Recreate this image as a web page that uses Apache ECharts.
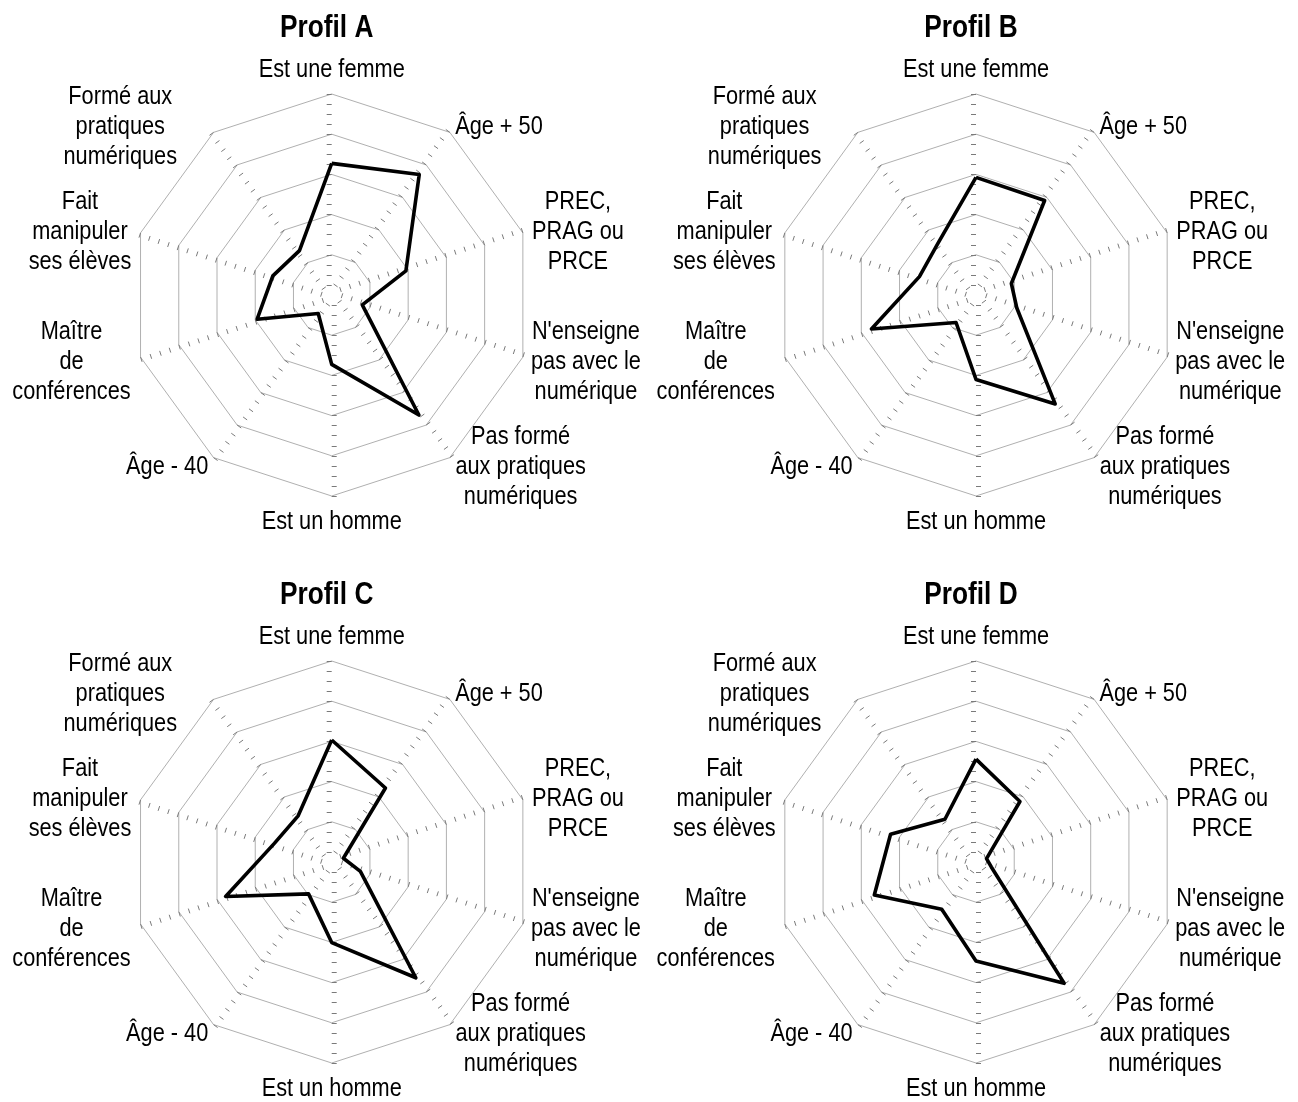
<!DOCTYPE html>
<html><head><meta charset="utf-8">
<script src="https://cdn.jsdelivr.net/npm/echarts@6/dist/echarts.min.js"></script>
<style>html,body{margin:0;padding:0;background:#fff}#c{width:1298px;height:1102px}</style>
</head><body><div id="c"></div>
<script>
// Axis labels, clockwise from the top
const axisLabels = [
  'Est une femme',
  'Âge + 50',
  'PREC,\nPRAG ou\nPRCE',
  "N'enseigne\npas avec le\nnumérique",
  'Pas formé\naux pratiques\nnumériques',
  'Est un homme',
  'Âge - 40',
  'Maître\nde\nconférences',
  'Fait\nmanipuler\nses élèves',
  'Formé aux\npratiques\nnumériques'
];
const profileTitles = ['Profil A', 'Profil B', 'Profil C', 'Profil D'];
// Values (clockwise, same order as axisLabels), scale 0..100
const profilA = [65.5, 74.1, 38.8, 16.0, 73.8, 34.5, 11.4, 39.0, 30.8, 27.3];
const profilB = [58.5, 58.1, 18.5, 21.4, 67.0, 42.0, 16.9, 54.7, 29.6, 32.0];
const profilC = [60.7, 45.5, 6.1, 15.0, 71.2, 40.1, 19.6, 55.5, 30.0, 28.4];
const profilD = [51.2, 37.2, 5.5, 8.0, 74.6, 49.3, 29.0, 53.2, 44.7, 26.3];
const profiles = [profilA, profilB, profilC, profilD];
const axisMax = 100;
const ringCount = 5;
const tickStep = 5;

const FONT = "'Liberation Sans', Arial, sans-serif";
const NARROW = 0.82;               // Arial Narrow look
const centers = [[331.7, 295], [976, 295], [331.7, 862], [976, 862]];
const R = 201;
// distance of each label anchor from the centre beyond the outer ring
const labelGap = [26, 9, 9, 9, 9, 24, 9, 9, 9, 9];
const labelDy = 2;
// width of the centred-line block (final px), 0 = natural
const labelWidths = [0, 0, 93, 109, 131, 0, 0, 121, 104, 176];
// ECharts lays indicators out counter-clockwise from the top
const ecOrder = [0, 9, 8, 7, 6, 5, 4, 3, 2, 1];

const indicator = ecOrder.map(i => ({ name: axisLabels[i], min: 0, max: axisMax }));
const tickIndicator = ecOrder.map(i => ({ name: axisLabels[i], min: tickStep, max: axisMax }));

const radar = [];
const series = [];
const graphic = [];
centers.forEach((c, p) => {
  radar.push({
    center: c, radius: [R * tickStep / axisMax, R], shape: 'polygon', startAngle: 90,
    splitNumber: (axisMax - tickStep) / tickStep, indicator: tickIndicator,
    axisName: { show: false },
    axisLine: { show: false },
    splitLine: { show: false },
    splitArea: { show: false },
    axisTick: { show: true, length: 5, lineStyle: { color: '#7a7a7a', width: 1 } }
  });
  radar.push({
    center: c, radius: R, shape: 'polygon', startAngle: 90,
    splitNumber: ringCount, indicator: indicator,
    axisName: { show: false },
    axisLine: { show: false },
    splitLine: { show: true, lineStyle: { color: '#b0b0b0', width: 1 } },
    splitArea: { show: false },
    axisTick: { show: false }
  });
  series.push({
    type: 'radar', radarIndex: 2 * p + 1, symbol: 'none', silent: true,
    lineStyle: { color: '#000', width: 3.6 },
    data: [{ value: ecOrder.map(i => profiles[p][i]), name: profileTitles[p] }]
  });
  // title
  graphic.push({
    type: 'text', x: c[0] - 5, y: c[1] - 267, scaleX: NARROW, silent: true,
    style: { text: profileTitles[p], fill: '#000', font: 'bold 32px ' + FONT,
             align: 'center', verticalAlign: 'middle' }
  });
  // axis names
  axisLabels.forEach((t, i) => {
    const th = i * Math.PI * 2 / axisLabels.length;
    const s = Math.sin(th), co = Math.cos(th);
    const d = R + labelGap[i];
    const align = Math.abs(s) < 1e-6 ? 'center' : (s > 0 ? 'left' : 'right');
    const tok = { fontFamily: FONT, fontSize: 26.5, lineHeight: 30, fill: '#000', align: 'center' };
    if (labelWidths[i]) tok.width = labelWidths[i] / NARROW;
    graphic.push({
      type: 'text', x: c[0] + d * s, y: c[1] - d * co + labelDy, scaleX: NARROW, silent: true,
      style: { text: '{t|' + t + '}', rich: { t: tok }, align: align, verticalAlign: 'middle',
               fontFamily: FONT, fontSize: 26.5, lineHeight: 30, fill: '#000' }
    });
  });
});

const chart = echarts.init(document.getElementById('c'), null, { renderer: 'canvas' });
chart.setOption({ backgroundColor: '#fff', animation: false, radar: radar, series: series, graphic: graphic });
</script></body></html>
